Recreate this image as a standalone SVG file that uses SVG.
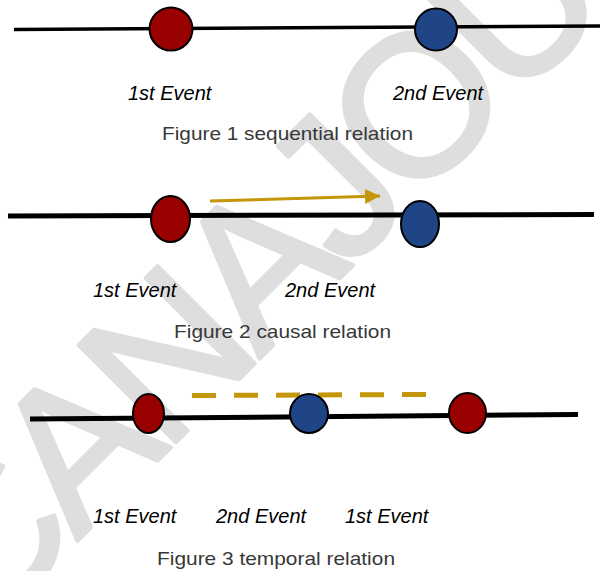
<svg xmlns="http://www.w3.org/2000/svg" width="600" height="571" viewBox="0 0 600 571">
<style>
.wm{font-family:"Liberation Sans",Arial,sans-serif;font-size:200px;letter-spacing:-10px;fill:#dedede;stroke:#dedede;stroke-width:4;stroke-linejoin:round}
.axis{stroke:#000;fill:none}
.red{fill:#990000;stroke:#000;stroke-width:2}
.blue{fill:#1f4587;stroke:#000;stroke-width:2}
.ev{font-family:"Liberation Sans",Arial,sans-serif;font-style:italic;font-size:20px;fill:#000}
.cap{font-family:"Liberation Sans",Arial,sans-serif;font-size:19px;fill:#383838}
.gold{stroke:#c4960a;fill:none}
</style>
<defs>
<marker id="ah" markerUnits="userSpaceOnUse" markerWidth="16" markerHeight="16" refX="15" refY="7.5" orient="auto">
<polygon points="0,0 15,7.5 0,15" fill="#c4960a"/>
</marker>
</defs>
<rect width="600" height="571" fill="#fff"/>
<text class="wm" transform="translate(-18,636.4) rotate(-45)">CANAJOU</text>
<g id="connectors">
<line class="axis" x1="14" y1="29.5" x2="600" y2="26" stroke-width="3.5"/>
<line class="axis" x1="8" y1="216" x2="594" y2="214.5" stroke-width="5"/>
<line class="axis" x1="30" y1="419" x2="578" y2="414.5" stroke-width="5"/>
<line class="gold" x1="210" y1="201" x2="380" y2="196" stroke-width="3" marker-end="url(#ah)"/>
<line class="gold" x1="192" y1="395.5" x2="426" y2="394.5" stroke-width="5" stroke-dasharray="24 18"/>
</g>
<g id="fig1-e1"><circle class="red" cx="171" cy="29" r="21.5"/><text class="ev" x="128" y="100">1st Event</text></g>
<g id="fig1-e2"><circle class="blue" cx="436" cy="29.5" r="21"/><text class="ev" x="393" y="100">2nd Event</text></g>
<text class="cap" x="162" y="140" textLength="251" lengthAdjust="spacingAndGlyphs">Figure 1 sequential relation</text>
<g id="fig2-e1"><ellipse class="red" cx="170.5" cy="219" rx="19.5" ry="23"/><text class="ev" x="93" y="297">1st Event</text></g>
<g id="fig2-e2"><ellipse class="blue" cx="420" cy="224" rx="19" ry="23"/><text class="ev" x="285" y="297">2nd Event</text></g>
<text class="cap" x="174" y="338" textLength="217" lengthAdjust="spacingAndGlyphs">Figure 2 causal relation</text>
<g id="fig3-e1"><ellipse class="red" cx="148.5" cy="413.5" rx="15.5" ry="19.5"/><text class="ev" x="93" y="523">1st Event</text></g>
<g id="fig3-e2"><ellipse class="blue" cx="309" cy="413.5" rx="19" ry="19.5"/><text class="ev" x="216" y="523">2nd Event</text></g>
<g id="fig3-e3"><ellipse class="red" cx="467.5" cy="413" rx="18.5" ry="20"/><text class="ev" x="345" y="523">1st Event</text></g>
<text class="cap" x="157" y="565" textLength="238" lengthAdjust="spacingAndGlyphs">Figure 3 temporal relation</text>
</svg>
